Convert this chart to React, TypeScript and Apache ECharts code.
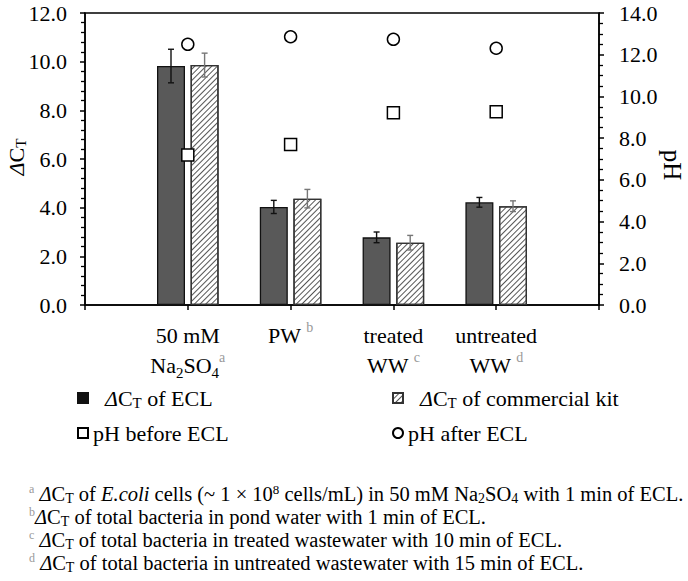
import { useEffect, useRef } from 'react';
import * as echarts from 'echarts';

// ---- data ----
const categories = [
  '50 mM\nNa{sub|2}SO{sub|4}{sup|a}',
  'PW {sup|b}',
  'treated\nWW {sup|c}',
  'untreated\nWW {sup|d}',
];
const seriesNames = ['ΔCT of ECL', 'ΔCT of commercial kit', 'pH before ECL', 'pH after ECL'];
const ctECL = [9.82, 4.03, 2.78, 4.22];
const ctECLErr = [0.69, 0.27, 0.22, 0.2];
const ctKit = [9.86, 4.37, 2.56, 4.06];
const ctKitErr = [0.49, 0.38, 0.3, 0.22];
const phBefore = [7.19, 7.7, 9.22, 9.27];
const phAfter = [12.5, 12.86, 12.74, 12.31];
const leftTitle = '{i|Δ}C{sub|T}';
const rightTitle = 'pH';
const footnotes = [
  '{sa|a} {i|Δ}C{sub|T} of {i|E.coli} cells (~ 1 × 10{sp|8} cells/mL) in 50 mM Na{sub|2}SO{sub|4} with 1 min of ECL.',
  '{sa|b}{i|Δ}C{sub|T} of total bacteria in pond water with 1 min of ECL.',
  '{sa|c} {i|Δ}C{sub|T} of total bacteria in treated wastewater with 10 min of ECL.',
  '{sa|d} {i|Δ}C{sub|T} of total bacteria in untreated wastewater with 15 min of ECL.',
];

const FONT = 'Liberation Serif';
const FS = 22;
const BAR_W = 28;
const BAR_GAP = 0.2;
const OFF = (BAR_W * (1 + BAR_GAP)) / 2;

const pad = (arr: any[]) => ['-', ...arr, '-'];

function errorSeries(vals: number[], errs: number[], dx: number, color: string) {
  return {
    type: 'custom',
    name: 'err',
    silent: true,
    z: 5,
    data: vals.map((v, i) => [i + 1, v, errs[i]]),
    encode: { x: 0, y: 1 },
    renderItem: (params: any, api: any) => {
      const i = api.value(0);
      const v = api.value(1);
      const e = api.value(2);
      const top = api.coord([i, v + e]);
      const bot = api.coord([i, v - e]);
      const x = top[0] + dx;
      const style = { stroke: color, lineWidth: 1.4 };
      return {
        type: 'group',
        children: [
          { type: 'line', shape: { x1: x, y1: top[1], x2: x, y2: bot[1] }, style },
          { type: 'line', shape: { x1: x - 3, y1: top[1], x2: x + 3, y2: top[1] }, style },
          { type: 'line', shape: { x1: x - 3, y1: bot[1], x2: x + 3, y2: bot[1] }, style },
        ],
      };
    },
  };
}

const richLegend = {
  ip: { fontStyle: 'italic', fontFamily: FONT, fontSize: FS, lineHeight: 24, padding: [0, 0, 0, 12] },
  sub: { fontFamily: FONT, fontSize: 15, lineHeight: 14, verticalAlign: 'bottom' },
};

export default function App() {
  const ref = useRef<HTMLDivElement>(null);
  useEffect(() => {
    if (!ref.current) return;
    const chart = echarts.init(ref.current, undefined, { renderer: 'svg' });
    const axisLineStyle = { color: '#000', width: 1.5 };
    const option: any = {
      animation: false,
      backgroundColor: '#fff',
      textStyle: { fontFamily: FONT },
      grid: {
        left: 85, right: 89, top: 13, bottom: 276,
        containLabel: false,
        outerBoundsMode: 'none',
        show: true, borderColor: '#000', borderWidth: 1.5, backgroundColor: 'transparent',
      },
      xAxis: {
        type: 'category',
        data: ['', ...categories, ''],
        boundaryGap: false,
        axisLine: { lineStyle: axisLineStyle },
        axisTick: { show: true, length: 5, interval: 0, lineStyle: { color: '#000', width: 1.5 } },
        axisLabel: {
          interval: 0,
          margin: 15,
          color: '#000',
          fontFamily: FONT,
          fontSize: FS,
          lineHeight: 30,
          hideOverlap: false,
          rich: {
            sub: { fontFamily: FONT, fontSize: 15, lineHeight: 20, verticalAlign: 'bottom', color: '#000' },
            sup: { fontFamily: FONT, fontSize: 14, lineHeight: 18, verticalAlign: 'top', color: '#999' },
          },
        },
      },
      yAxis: [
        {
          type: 'value', min: 0, max: 12, interval: 2,
          axisLine: { show: true, lineStyle: axisLineStyle },
          axisTick: { show: true, length: 5, lineStyle: { color: '#000', width: 1.5 } },
          minorTick: { show: true, splitNumber: 5, length: 4, lineStyle: { color: '#000', width: 1.3 } },
          splitLine: { show: false },
          axisLabel: { margin: 18, color: '#000', fontFamily: FONT, fontSize: FS, formatter: (v: number) => v.toFixed(1) },
        },
        {
          type: 'value', min: 0, max: 14, interval: 2, position: 'right',
          axisLine: { show: true, lineStyle: axisLineStyle },
          axisTick: { show: true, length: 5, lineStyle: { color: '#000', width: 1.5 } },
          minorTick: { show: true, splitNumber: 4, length: 4, lineStyle: { color: '#000', width: 1.3 } },
          splitLine: { show: false },
          axisLabel: { margin: 20, color: '#000', fontFamily: FONT, fontSize: FS, formatter: (v: number) => v.toFixed(1) },
        },
      ],
      legend: [
        {
          data: [
            { name: seriesNames[0], icon: 'rect', itemStyle: { color: '#111' } },
            { name: seriesNames[2], icon: 'rect' },
          ],
          orient: 'vertical', left: 77, top: 386, padding: 0, itemGap: 11, itemWidth: 10, itemHeight: 10,
          formatter: (n: string) => n.replace('ΔCT', '{ip|Δ}C{sub|T}'),
          textStyle: { fontFamily: FONT, fontSize: FS, color: '#000', lineHeight: 24, rich: richLegend },
        },
        {
          data: [
            { name: seriesNames[1], icon: 'rect' },
            { name: seriesNames[3], icon: 'circle' },
          ],
          orient: 'vertical', left: 392, top: 386, padding: 0, itemGap: 11, itemWidth: 10, itemHeight: 10,
          formatter: (n: string) => n.replace('ΔCT', '{ip|Δ}C{sub|T}'),
          textStyle: { fontFamily: FONT, fontSize: FS, color: '#000', lineHeight: 24, rich: richLegend },
        },
      ],
      series: [
        {
          name: seriesNames[0], type: 'bar', barWidth: BAR_W, barGap: BAR_GAP * 100 + '%',
          data: pad(ctECL),
          itemStyle: { color: '#595959', borderColor: '#111', borderWidth: 1.3 },
        },
        {
          name: seriesNames[1], type: 'bar', barWidth: BAR_W,
          data: pad(ctKit),
          itemStyle: {
            color: '#fff', borderColor: '#333', borderWidth: 1.3,
            decal: {
              symbol: 'rect', symbolSize: 1, dashArrayX: [1, 0], dashArrayY: [1, 3],
              rotation: -Math.PI / 4, color: '#555',
            },
          },
        },
        errorSeries(ctECL, ctECLErr, -OFF, '#111'),
        errorSeries(ctKit, ctKitErr, OFF, '#777'),
        {
          name: seriesNames[2], type: 'scatter', yAxisIndex: 1, symbol: 'rect', symbolSize: 12, z: 6,
          data: pad(phBefore),
          itemStyle: { color: '#fff', borderColor: '#000', borderWidth: 1.5, opacity: 1 },
        },
        {
          name: seriesNames[3], type: 'scatter', yAxisIndex: 1, symbol: 'circle', symbolSize: 12, z: 6,
          data: pad(phAfter),
          itemStyle: { color: '#fff', borderColor: '#000', borderWidth: 1.5, opacity: 1 },
        },
      ],
      graphic: [
        {
          type: 'text',
          x: 16,
          y: 157,
          rotation: Math.PI / 2,
          style: {
            text: leftTitle, fontFamily: FONT, fontSize: FS, fill: '#000', lineHeight: 24,
            align: 'center', verticalAlign: 'middle',
            rich: {
              i: { fontStyle: 'italic', fontFamily: FONT, fontSize: FS, lineHeight: 24 },
              sub: { fontFamily: FONT, fontSize: 15, lineHeight: 14, verticalAlign: 'bottom' },
            },
          },
        },
        {
          type: 'text',
          x: 672,
          y: 165,
          rotation: -Math.PI / 2,
          style: {
            text: rightTitle, fontFamily: FONT, fontSize: 25, fill: '#000',
            align: 'center', verticalAlign: 'middle',
          },
        },
        ...footnotes.map((t, k) => ({
          type: 'text',
          left: 29,
          top: 483 + k * 23,
          style: {
            text: t,
            fontFamily: FONT,
            fontSize: 20.5,
            fill: '#000',
            lineHeight: 22,
            rich: {
              sa: { fontFamily: FONT, fontSize: 12, lineHeight: 14, verticalAlign: 'top', fill: '#999' },
              sp: { fontFamily: FONT, fontSize: 13, lineHeight: 14, verticalAlign: 'top', fill: '#000' },
              i: { fontFamily: FONT, fontSize: 20.5, fontStyle: 'italic', lineHeight: 22 },
              sub: { fontFamily: FONT, fontSize: 14, lineHeight: 14, verticalAlign: 'bottom' },
            },
          },
        })),
      ],
    };
    chart.setOption(option);
    return () => chart.dispose();
  }, []);
  return (
    <div
      ref={ref}
      style={{ position: 'fixed', left: 0, top: 0, width: 688, height: 581, background: '#fff' }}
    />
  );
}
